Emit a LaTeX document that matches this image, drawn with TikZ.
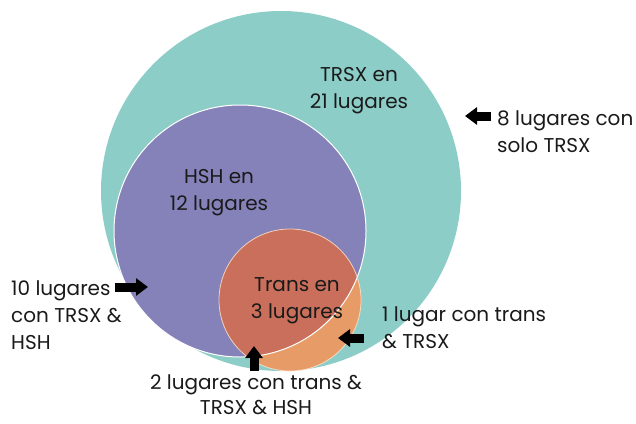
\documentclass[tikz,border=0pt]{standalone}
\usepackage{fontspec}
\setmainfont{Poppins}
\usetikzlibrary{arrows.meta}
\definecolor{tealc}{HTML}{8DCDC7}
\definecolor{purplec}{HTML}{8482B9}
\definecolor{orangein}{HTML}{C96F5C}
\definecolor{orangeout}{HTML}{E79C68}
\definecolor{txt}{HTML}{1A1A1A}
\tikzset{
  lbl/.style={text=txt, font=\fontsize{20}{27}\selectfont, inner sep=0pt},
  blockarrow/.style={line width=9pt, draw=black, -{Triangle[length=12pt,width=17pt]}, shorten >=0pt}
}
\begin{document}
\begin{tikzpicture}[x=1pt,y=-1pt]
\useasboundingbox (0,0) rectangle (636,423);
% circles
\fill[tealc] (281,191) ellipse [x radius=180, y radius=180];
\fill[purplec] (240,231) circle [radius=126];
\fill[orangeout] (290,300) circle [radius=71];
\begin{scope}
  \clip (240,231) circle [radius=126];
  \fill[orangein] (290,300) circle [radius=71];
\end{scope}
\draw[white, line width=1pt] (240,231) circle [radius=126];
\draw[white!80!orange, line width=0.8pt, opacity=0.8] (290,300) circle [radius=71];
% labels
\node[lbl, align=center] (trsx) at (359,91) {TRSX en\\21 lugares};
\node[lbl, align=center] (hsh) at (219,193) {HSH en\\12 lugares};
\node[lbl, align=center] (trans) at (297,301) {Trans en\\3 lugares};
\node[lbl, align=left, anchor=west] (solo) at (497,132) {8 lugares con\\solo TRSX};
\node[lbl, align=left, anchor=west] (diez) at (11,315) {10 lugares\\con TRSX \&\\HSH};
\node[lbl, align=left, anchor=west] (uno) at (382,328) {1 lugar con trans\\\& TRSX};
\node[lbl, align=center, font=\fontsize{20}{25}\selectfont] (dos) at (256,395) {2 lugares con trans \&\\TRSX \& HSH};
% arrows
\coordinate (soloT) at (465,116);
\coordinate (soloS) at (491,116);
\coordinate (diezT) at (148,287);
\coordinate (diezS) at (115,287);
\coordinate (unoT) at (338,338);
\coordinate (unoS) at (364,338);
\coordinate (dosT) at (254,346);
\coordinate (dosS) at (254,371);
\draw[blockarrow] (soloS) -- (soloT);
\draw[blockarrow] (diezS) -- (diezT);
\draw[blockarrow] (unoS) -- (unoT);
\draw[blockarrow] (dosS) -- (dosT);
\end{tikzpicture}
\end{document}
